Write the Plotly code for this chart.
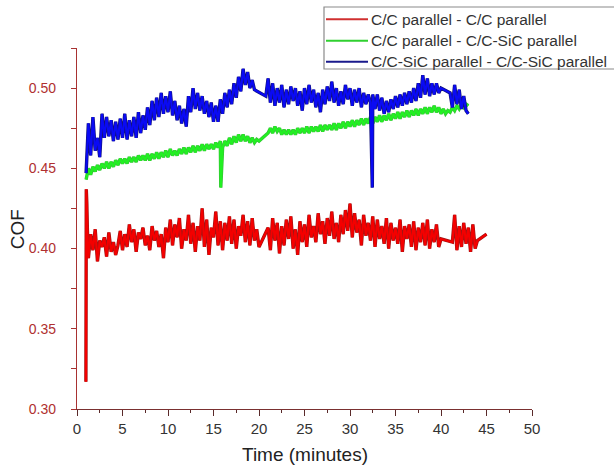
import numpy as np
import plotly.graph_objects as go

# ---------------- data ----------------
STEP = 0.25  # sampling interval of the plotted records, minutes

# C/C parallel - C/C parallel (red)
red_head_t = [0.98, 1.02, 1.08, 1.14, 1.2]
red_head_v = [0.317, 0.437, 0.428, 0.412, 0.398]
red_seg1_start = 1.25
red_seg1 = [
    0.394, 0.409, 0.399, 0.412, 0.392, 0.405, 0.401, 0.407,
    0.395, 0.410, 0.398, 0.404, 0.396, 0.402, 0.411, 0.399,
    0.409, 0.401, 0.415, 0.404, 0.412, 0.398, 0.410, 0.406,
    0.413, 0.402, 0.408, 0.399, 0.414, 0.405, 0.411, 0.401,
    0.409, 0.394, 0.413, 0.404, 0.418, 0.402, 0.415, 0.407,
    0.419, 0.400, 0.412, 0.405, 0.421, 0.403, 0.416, 0.398,
    0.414, 0.405, 0.425, 0.401, 0.418, 0.396, 0.413, 0.407,
    0.423, 0.402, 0.417, 0.399, 0.416, 0.405, 0.420, 0.403,
    0.418, 0.400, 0.414, 0.408, 0.421, 0.404, 0.417, 0.402,
    0.419, 0.405, 0.412, 0.401,
]
red_seg2_start = 21.0
red_seg2 = [
    0.413,
    0.399, 0.419, 0.405, 0.416, 0.397, 0.414, 0.402, 0.418,
    0.406, 0.420, 0.400, 0.412, 0.396, 0.417, 0.404, 0.415,
    0.401, 0.421, 0.407, 0.414, 0.404, 0.422, 0.409, 0.417,
    0.403, 0.419, 0.408, 0.423, 0.406, 0.416, 0.404, 0.421,
    0.409, 0.424, 0.411, 0.428, 0.407, 0.422, 0.410, 0.418,
    0.402, 0.421, 0.408, 0.416, 0.405, 0.420, 0.401, 0.418,
    0.406, 0.414, 0.403, 0.419, 0.400, 0.416, 0.405, 0.413,
    0.403, 0.418, 0.398, 0.414, 0.406, 0.415, 0.401, 0.417,
    0.399, 0.413, 0.404, 0.416, 0.402, 0.418, 0.400, 0.412,
    0.404, 0.415, 0.401, 0.406,
]
red_seg3_start = 41.25
red_seg3 = [0.404, 0.421, 0.399, 0.414, 0.401, 0.416, 0.403, 0.413,
            0.398, 0.415, 0.400, 0.405]
red_tail_t = [45.0]
red_tail_v = [0.409]

# C/C parallel - C/C-SiC parallel (green)
green_seg1_start = 1.0
green_seg1 = [
    0.443,
    0.450, 0.446, 0.451, 0.448, 0.452, 0.449, 0.453, 0.450,
    0.454, 0.450, 0.454, 0.451, 0.455, 0.452, 0.456, 0.453,
    0.456, 0.453, 0.457, 0.454, 0.457, 0.454, 0.458, 0.455,
    0.458, 0.455, 0.459, 0.455, 0.459, 0.456, 0.460, 0.456,
    0.460, 0.457, 0.461, 0.457, 0.462, 0.458, 0.461, 0.458,
    0.462, 0.459, 0.463, 0.459, 0.463, 0.460, 0.464, 0.460,
    0.464, 0.461, 0.465, 0.461, 0.465, 0.462, 0.465, 0.462,
    0.466, 0.463, 0.467, 0.463, 0.467, 0.464, 0.469, 0.465,
    0.470, 0.466, 0.471, 0.467, 0.471, 0.467, 0.470, 0.466,
    0.469, 0.466, 0.468, 0.467,
]
green_seg2_start = 21.0
green_seg2 = [
    0.472,
    0.475, 0.472, 0.476, 0.473, 0.475, 0.471, 0.474, 0.471,
    0.474, 0.471, 0.474, 0.471, 0.475, 0.472, 0.475, 0.472,
    0.476, 0.472, 0.476, 0.473, 0.476, 0.473, 0.477, 0.473,
    0.477, 0.474, 0.477, 0.474, 0.478, 0.474, 0.478, 0.475,
    0.479, 0.475, 0.479, 0.476, 0.480, 0.476, 0.480, 0.477,
    0.481, 0.477, 0.481, 0.478, 0.482, 0.478, 0.482, 0.479,
    0.483, 0.479, 0.483, 0.480, 0.484, 0.480, 0.484, 0.481,
    0.485, 0.481, 0.485, 0.482, 0.486, 0.482, 0.486, 0.483,
    0.487, 0.483, 0.487, 0.484, 0.488, 0.484, 0.488, 0.485,
    0.489, 0.485, 0.488, 0.484,
    0.487, 0.484, 0.486, 0.485, 0.488, 0.486, 0.489, 0.487,
    0.490, 0.488, 0.490, 0.489,
]
green_spike_t = [15.8]
green_spike_v = [0.438]

# C/C-SiC parallel - C/C-SiC parallel (blue)
blue_seg1_start = 1.0
blue_seg1 = [
    0.447,
    0.478, 0.458, 0.482, 0.461, 0.469, 0.457, 0.484, 0.469,
    0.482, 0.470, 0.480, 0.467, 0.479, 0.468, 0.481, 0.469,
    0.484, 0.468, 0.480, 0.470, 0.482, 0.469, 0.485, 0.472,
    0.483, 0.474, 0.488, 0.477, 0.492, 0.480, 0.494, 0.482,
    0.497, 0.484, 0.495, 0.485, 0.498, 0.483, 0.492, 0.480,
    0.489, 0.478, 0.487, 0.476, 0.495, 0.485, 0.500, 0.487,
    0.497, 0.486, 0.495, 0.484, 0.492, 0.482, 0.491, 0.479,
    0.489, 0.479, 0.493, 0.484, 0.497, 0.488, 0.499, 0.490,
    0.503, 0.494, 0.507, 0.498, 0.512, 0.502, 0.510, 0.500,
    0.505, 0.499,
]
blue_seg2_start = 20.75
blue_seg2 = [
    0.495, 0.506,
    0.491, 0.503, 0.489, 0.500, 0.491, 0.502, 0.488, 0.499,
    0.490, 0.501, 0.492, 0.500, 0.489, 0.498, 0.486, 0.500,
    0.490, 0.502, 0.491, 0.499, 0.488, 0.497, 0.485, 0.499,
    0.490, 0.501, 0.492, 0.504, 0.491, 0.500, 0.489, 0.498,
    0.490, 0.502, 0.493, 0.500, 0.489, 0.499, 0.491, 0.500,
    0.488, 0.497, 0.490, 0.496, 0.491, 0.496, 0.487, 0.496,
    0.486, 0.494, 0.484, 0.492, 0.485, 0.493, 0.487, 0.495,
    0.488, 0.496, 0.489, 0.497, 0.490, 0.498, 0.491, 0.500,
    0.492, 0.503, 0.494, 0.508, 0.496, 0.506, 0.495, 0.503,
    0.496, 0.503, 0.497, 0.500,
]
blue_seg3_start = 41.0
blue_seg3 = [0.497, 0.488, 0.502, 0.490, 0.499, 0.487, 0.495, 0.486, 0.484]
blue_spike_t = [32.45]
blue_spike_v = [0.438]

series_names = [
    "C/C parallel - C/C parallel",
    "C/C parallel - C/C-SiC parallel",
    "C/C-SiC parallel - C/C-SiC parallel",
]

x_ticks = [0, 5, 10, 15, 20, 25, 30, 35, 40, 45, 50]
y_ticks = [0.30, 0.35, 0.40, 0.45, 0.50]


# ---------------- assemble ----------------
def seg_times(start, values):
    return list(start + STEP * np.arange(len(values)))


def assemble(parts, extra_t=(), extra_v=()):
    t, v = [], []
    for pt, pv in parts:
        t += list(pt)
        v += list(pv)
    t += list(extra_t)
    v += list(extra_v)
    order = np.argsort(t, kind="stable")
    return [t[i] for i in order], [v[i] for i in order]


red_t, red_v = assemble([
    (red_head_t, red_head_v),
    (seg_times(red_seg1_start, red_seg1), red_seg1),
    (seg_times(red_seg2_start, red_seg2), red_seg2),
    (seg_times(red_seg3_start, red_seg3), red_seg3),
    (red_tail_t, red_tail_v),
])
green_t, green_v = assemble([
    (seg_times(green_seg1_start, green_seg1), green_seg1),
    (seg_times(green_seg2_start, green_seg2), green_seg2),
], green_spike_t, green_spike_v)
blue_t, blue_v = assemble([
    (seg_times(blue_seg1_start, blue_seg1), blue_seg1),
    (seg_times(blue_seg2_start, blue_seg2), blue_seg2),
    (seg_times(blue_seg3_start, blue_seg3), blue_seg3),
], blue_spike_t, blue_spike_v)

FONT = "Liberation Sans, Arial, sans-serif"
AXIS_RED = "#a83232"

# plot area in page pixels (used to place the legend box like the original)
PLOT_L, PLOT_R, PLOT_T, PLOT_B = 77, 532, 48, 409


def px_to_paper(px, py):
    return ((px - PLOT_L) / (PLOT_R - PLOT_L), (PLOT_B - py) / (PLOT_B - PLOT_T))


fig = go.Figure()
styles = [
    ("#f40000", "#a01414", "#d03030"),
    ("#22f022", "#38c038", "#30d030"),
    ("#0a0af4", "#12127a", "#1a1a8c"),
]
for (t, v), name, (bright, dark, legend_col) in zip(
    [(red_t, red_v), (green_t, green_v), (blue_t, blue_v)],
    series_names, styles,
):
    # darker outline underneath, bright core on top (dense-record look)
    fig.add_trace(go.Scatter(x=t, y=v, mode="lines", showlegend=False,
                             hoverinfo="skip", name=name,
                             line=dict(color=dark, width=3.4)))
    fig.add_trace(go.Scatter(x=t, y=v, mode="lines", showlegend=False,
                             name=name,
                             line=dict(color=bright, width=2.1)))

# legend box drawn like the original's (frame, line samples, real text)
shapes = []
annotations = []
x0, y0 = px_to_paper(324, 7)
x1, y1 = px_to_paper(617, 69)
shapes.append(dict(type="rect", xref="paper", yref="paper", x0=x0, y0=y0,
                   x1=x1, y1=y1, line=dict(color="#8a8a8a", width=1.2),
                   fillcolor="white", layer="above"))
for row_y, name, (_, _, legend_col) in zip([19.3, 40.7, 61.7], series_names, styles):
    lx0, ly = px_to_paper(326, row_y)
    lx1, _ = px_to_paper(368, row_y)
    shapes.append(dict(type="line", xref="paper", yref="paper", x0=lx0, y0=ly,
                       x1=lx1, y1=ly, line=dict(color=legend_col, width=2),
                       layer="above"))
    tx, _ = px_to_paper(369, row_y)
    annotations.append(dict(text=name, xref="paper", yref="paper", x=tx, y=ly,
                            xanchor="left", yanchor="middle", showarrow=False,
                            font=dict(size=15.5, color="#333333", family=FONT)))

annotations += [
    dict(text="COF", xref="paper", yref="paper", x=-0.1305, y=0.497,
         xanchor="center", yanchor="middle", textangle=-90, showarrow=False,
         font=dict(size=19, color="#222222", family=FONT)),
    dict(text="Time (minutes)", xref="paper", yref="paper", x=0.501, y=-0.127,
         xanchor="center", yanchor="middle", showarrow=False,
         font=dict(size=19, color="#222222", family=FONT)),
]

fig.update_layout(
    width=614, height=468,
    margin=dict(l=PLOT_L, r=614 - PLOT_R, t=PLOT_T, b=468 - PLOT_B, autoexpand=False),
    paper_bgcolor="white", plot_bgcolor="white",
    font=dict(family=FONT, color="#333333"),
    showlegend=False,
    xaxis=dict(
        range=[0, 50], tickvals=x_ticks, ticks="outside", ticklen=6,
        tickwidth=1, tickcolor="#5a2a2a",
        showline=True, linecolor="#7a3030", linewidth=1.3,
        showgrid=False, zeroline=False,
        tickfont=dict(size=15, color="#333333"),
        minor=dict(dtick=2.5, ticks="outside", ticklen=3, tickcolor="#5a2a2a"),
    ),
    yaxis=dict(
        range=[0.30, 0.525], tickvals=y_ticks, tickformat=".2f",
        ticks="outside", ticklen=5, tickwidth=1, tickcolor=AXIS_RED,
        showline=True, linecolor=AXIS_RED, linewidth=1.3,
        showgrid=False, zeroline=False,
        tickfont=dict(size=14, color="#b03030"),
        ticklabelstandoff=12,
        minor=dict(dtick=0.025, ticks="outside", ticklen=5, tickcolor=AXIS_RED),
    ),
    shapes=shapes,
    annotations=annotations,
)

# remove the page's default 8px body margin so the figure sits at (0, 0)
fig.write_html(
    "out.html",
    config={"displayModeBar": False},
    post_script="document.body.style.margin='0';document.body.style.padding='0';",
)
